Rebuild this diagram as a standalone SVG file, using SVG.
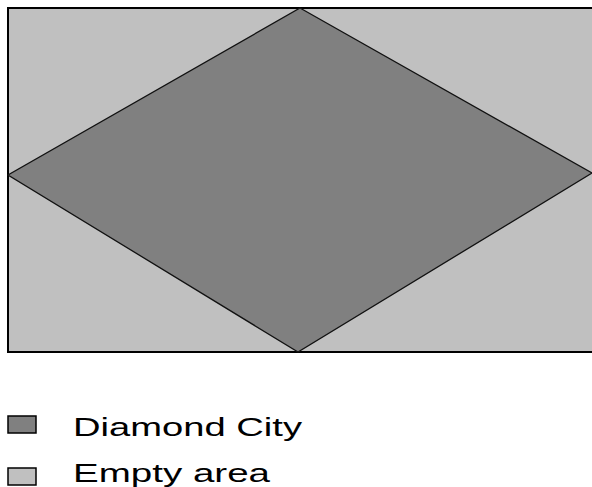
<svg xmlns="http://www.w3.org/2000/svg" width="592" height="487" viewBox="0 0 592 487">
<style>
.empty{fill:#c0c0c0;stroke:#000;stroke-width:2}
.city{fill:#808080;stroke:#111;stroke-width:1.3}
.lbl{font-family:"Liberation Sans",Arial,sans-serif;font-size:26px;fill:#000}
</style>
<rect width="592" height="487" fill="#fff"/>
<g id="empty-area">
<rect class="empty" x="8" y="8" width="590" height="344"/>
</g>
<g id="diamond-city">
<polygon class="city" points="300,8 592,173 298,352 8,175"/>
</g>
<g id="connectors"/>
<g id="legend-city">
<rect x="8" y="416" width="28" height="17" fill="#808080" stroke="#000" stroke-width="1.5"/>
<text class="lbl" x="73" y="436" textLength="229" lengthAdjust="spacingAndGlyphs">Diamond City</text>
</g>
<g id="legend-empty">
<rect x="8" y="468" width="28" height="17" fill="#c0c0c0" stroke="#000" stroke-width="1.5"/>
<text class="lbl" x="73" y="482" textLength="197" lengthAdjust="spacingAndGlyphs">Empty area</text>
</g>
</svg>
